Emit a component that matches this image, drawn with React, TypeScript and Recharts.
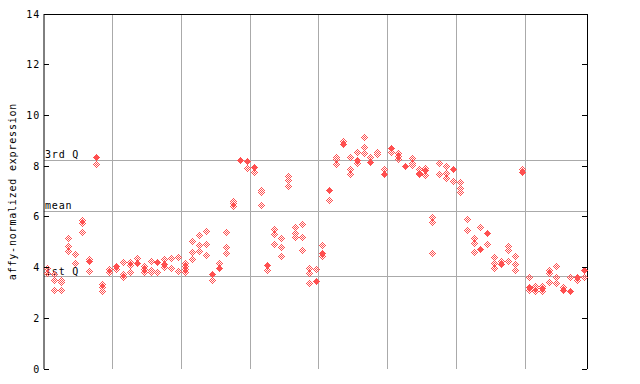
import React from "react";
import { ScatterChart, Scatter, XAxis, YAxis, ReferenceLine } from "recharts";

// one list of replicate values per sample (hollow markers), left to right
const sampleValues: number[][] = [
  [4.0, 3.78], [3.73, 3.51, 3.12], [3.51, 3.42, 3.12], [5.15, 4.86, 4.65], [4.52, 4.17],
  [5.88, 5.77, 5.39], [4.35, 3.86], [8.08], [3.34, 3.23, 3.07], [3.93, 3.84],
  [3.95], [4.22, 3.74, 3.64], [4.21, 4.1, 3.81], [4.36], [4.06, 3.93, 3.84],
  [4.26, 3.9, 3.81], [3.81], [4.34, 4.01], [4.39, 3.97], [4.43, 3.86],
  [4.18, 4.05, 3.94, 3.81], [5.05, 4.6, 4.34], [5.28, 4.89, 4.65], [5.44, 4.93, 4.5], [3.51],
  [4.19], [5.39, 4.8, 4.56], [6.63, 6.53, 6.44], [], [7.91],
  [7.78], [7.06, 6.97, 6.47], [3.9], [5.52, 5.31, 4.92], [5.15, 4.8, 4.46],
  [7.61, 7.44, 7.22], [5.59, 5.38, 5.19], [5.71, 5.19, 4.68], [3.97, 3.8, 3.4], [3.93],
  [4.88, 4.46], [6.65], [8.36, 8.27, 8.07], [8.99], [8.35, 7.88, 7.68],
  [8.55, 8.14], [9.15, 8.74, 8.51], [8.35], [8.55, 8.48], [7.88],
  [8.57], [8.51, 8.4, 8.28], [], [8.31, 8.14, 8.05], [7.88, 7.68],
  [7.91, 7.65], [6.01, 5.81, 4.56], [8.14, 7.69], [8.0, 7.72, 7.52], [7.41],
  [7.36, 7.12, 6.97], [5.9, 5.48], [5.18, 4.96, 4.6], [5.59], [4.92],
  [4.4, 4.19, 4.0], [4.26], [4.85, 4.69, 4.26], [4.44, 4.14, 3.9], [7.89],
  [3.62, 3.12], [3.27, 3.18, 3.09], [3.27, 3.09], [3.9, 3.8, 3.42], [4.06, 3.62, 3.38],
  [3.22], [3.64], [3.51], [3.62],
];

// the highlighted (solid) value of each sample, if any
const markedValues: (number | null)[] = [
  null, null, null, null, null, null, 4.25, 8.37, null, null,
  4.07, null, null, 4.19, null, null, 4.23, 4.14, null, null,
  null, null, null, null, 3.73, 3.99, null, null, 8.24, 8.21,
  7.98, null, 4.1, null, null, null, null, null, null, 3.47,
  4.56, 7.06, null, 8.88, null, 8.24, null, 8.15, null, 7.68,
  8.7, null, 8.02, null, 7.74, 7.85, null, null, null, 7.89,
  null, null, null, 4.73, 5.38, null, 4.13, null, null, 7.76,
  3.22, null, 3.18, null, null, 3.12, 3.09, 3.62, 3.9,
];

const groupBoundaries = [9.5, 19.5, 29.5, 39.5, 49.5, 59.5, 69.5];
const statLabels = ["3rd Q", "mean", "1st Q"];
const statValues = [8.24, 6.22, 3.63];
const yTicks = [0, 2, 4, 6, 8, 10, 12, 14];

const PLOT_LEFT = 44;
const PLOT_RIGHT = 587;
const RED = "#ff5050";
const GRID = "#aaaaaa";
const FONT = "'DejaVu Sans Mono', monospace";

const hollowPoints = sampleValues.flatMap((vals, i) => vals.map((v) => ({ x: i, y: v })));
const solidPoints = markedValues
  .map((v, i) => (v == null ? null : { x: i, y: v }))
  .filter((p) => p !== null);

function diamond(cx: number, cy: number, keep: (d: number) => boolean) {
  const x0 = Math.round(cx);
  const y0 = Math.round(cy);
  const cells = [];
  for (let dy = -3; dy <= 3; dy++) {
    for (let dx = -3; dx <= 3; dx++) {
      const d = Math.abs(dx) + Math.abs(dy);
      if (d <= 3 && keep(d)) {
        cells.push(<rect key={dx + "_" + dy} x={x0 + dx} y={y0 - 0.5 + dy + 0.5} width={1} height={1} />);
      }
    }
  }
  return (
    <g fill={RED} shapeRendering="crispEdges">
      {cells}
    </g>
  );
}

const HollowDiamond = (props: any) =>
  props.cx == null ? null : diamond(props.cx, props.cy, (d) => d === 1 || d === 3);
const SolidDiamond = (props: any) => (props.cx == null ? null : diamond(props.cx, props.cy, () => true));

function YTick({ y, payload }: any) {
  return (
    <g>
      <line x1={PLOT_LEFT} x2={PLOT_LEFT + 5} y1={y} y2={y} stroke="#000" shapeRendering="crispEdges" />
      <line x1={PLOT_RIGHT - 5} x2={PLOT_RIGHT} y1={y} y2={y} stroke="#000" shapeRendering="crispEdges" />
      <text x={PLOT_LEFT - 4} y={y} textAnchor="end" dominantBaseline="central" fontFamily={FONT} fontSize={10} letterSpacing={0.8} fill="#000">
        {payload.value}
      </text>
    </g>
  );
}

export default function App() {
  return (
    <div style={{ position: "absolute", left: 0, top: 0, width: 640, height: 384, background: "#fff" }}>
      <ScatterChart width={640} height={384} margin={{ top: 14, right: 640 - PLOT_RIGHT, bottom: 15, left: 0 }}>
        <XAxis type="number" dataKey="x" domain={[-0.5, 78.5]} tick={false} tickLine={false} height={0} axisLine={{ stroke: "#000" }} />
        <YAxis
          type="number"
          dataKey="y"
          domain={[0, 14]}
          ticks={yTicks}
          width={PLOT_LEFT}
          tickLine={false}
          axisLine={{ stroke: "#000" }}
          tick={YTick}
          label={{
            content: (p: any) => {
              const vb = p.viewBox || { x: 0, y: 14, height: 355 };
              const cy = vb.y + vb.height / 2;
              return (
                <text transform={`translate(12, ${cy}) rotate(-90)`} textAnchor="middle" dominantBaseline="central" fontFamily={FONT} fontSize={10} letterSpacing={0.8} fill="#000">
                  affy-normalized expression
                </text>
              );
            },
          }}
        />
        {groupBoundaries.map((b) => (
          <ReferenceLine key={"g" + b} x={b} stroke={GRID} strokeWidth={1} shapeRendering="crispEdges" />
        ))}
        {statValues.map((v, i) => (
          <ReferenceLine
            key={"s" + i}
            y={v}
            stroke={GRID}
            strokeWidth={1}
            shapeRendering="crispEdges"
            label={{
              content: (p: any) => (
                <text x={(p.viewBox?.x ?? PLOT_LEFT) + 1} y={(p.viewBox?.y ?? 0) - 2} fontFamily={FONT} fontSize={10} letterSpacing={0.8} fill="#000">
                  {statLabels[i]}
                </text>
              ),
            }}
          />
        ))}
        <ReferenceLine y={14} stroke="#000" shapeRendering="crispEdges" />
        <ReferenceLine x={78.5} stroke="#000" shapeRendering="crispEdges" />
        <Scatter data={hollowPoints} shape={HollowDiamond} isAnimationActive={false} />
        <Scatter data={solidPoints} shape={SolidDiamond} isAnimationActive={false} />
      </ScatterChart>
    </div>
  );
}
